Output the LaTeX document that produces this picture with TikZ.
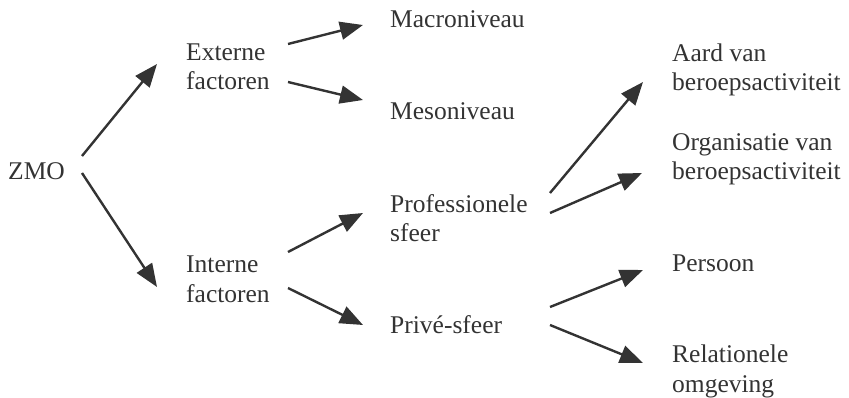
\documentclass[tikz,border=0pt]{standalone}
\usepackage{fontspec}
\setmainfont{Liberation Serif}
\usetikzlibrary{arrows.meta}
\definecolor{ink}{HTML}{333333}
\tikzset{
  lbl/.style={anchor=base west, inner sep=0pt, align=left, text=ink,
    font=\fontsize{25.5}{29.5}\selectfont},
  arr/.style={draw=ink, line width=2.4pt, -{Triangle[length=23pt,width=18pt]}}
}
\begin{document}
\begin{tikzpicture}[x=1pt,y=-1pt]
\useasboundingbox (0,0) rectangle (849,398);
% nodes (multi-line nodes placed at the baseline of their last line)
\node[lbl] (zmo)   at (8,180)   {ZMO};
\node[lbl] (ext)   at (186,90)  {Externe\\factoren};
\node[lbl] (int)   at (186,302) {Interne\\factoren};
\node[lbl] (macro) at (390,28)  {Macroniveau};
\node[lbl] (meso)  at (390,120) {Mesoniveau};
\node[lbl] (prof)  at (390,242) {Professionele\\sfeer};
\node[lbl] (prive) at (390,333) {Privé-sfeer};
\node[lbl] (aard)  at (672,91)  {Aard van\\beroepsactiviteit};
\node[lbl] (org)   at (672,180) {Organisatie van\\beroepsactiviteit};
\node[lbl] (pers)  at (672,272) {Persoon};
\node[lbl] (rel)   at (672,392) {Relationele\\omgeving};
% connector end points
\coordinate (zmoA) at (82,156);  \coordinate (extA) at (157,64);
\coordinate (zmoB) at (82,173);  \coordinate (intA) at (157,287);
\coordinate (extB) at (288,44);  \coordinate (macA) at (363,25);
\coordinate (extC) at (288,82);  \coordinate (mesA) at (363,100);
\coordinate (intB) at (288,252); \coordinate (proA) at (363,213);
\coordinate (intC) at (288,288); \coordinate (priA) at (363,325);
\coordinate (proB) at (550,193); \coordinate (aarA) at (643,82);
\coordinate (proC) at (550,213); \coordinate (orgA) at (642,173);
\coordinate (priB) at (550,307); \coordinate (perA) at (643,270);
\coordinate (priC) at (550,325); \coordinate (relA) at (643,363);
% connectors
\draw[arr] (zmoA) -- (extA);
\draw[arr] (zmoB) -- (intA);
\draw[arr] (extB) -- (macA);
\draw[arr] (extC) -- (mesA);
\draw[arr] (intB) -- (proA);
\draw[arr] (intC) -- (priA);
\draw[arr] (proB) -- (aarA);
\draw[arr] (proC) -- (orgA);
\draw[arr] (priB) -- (perA);
\draw[arr] (priC) -- (relA);
\end{tikzpicture}
\end{document}
